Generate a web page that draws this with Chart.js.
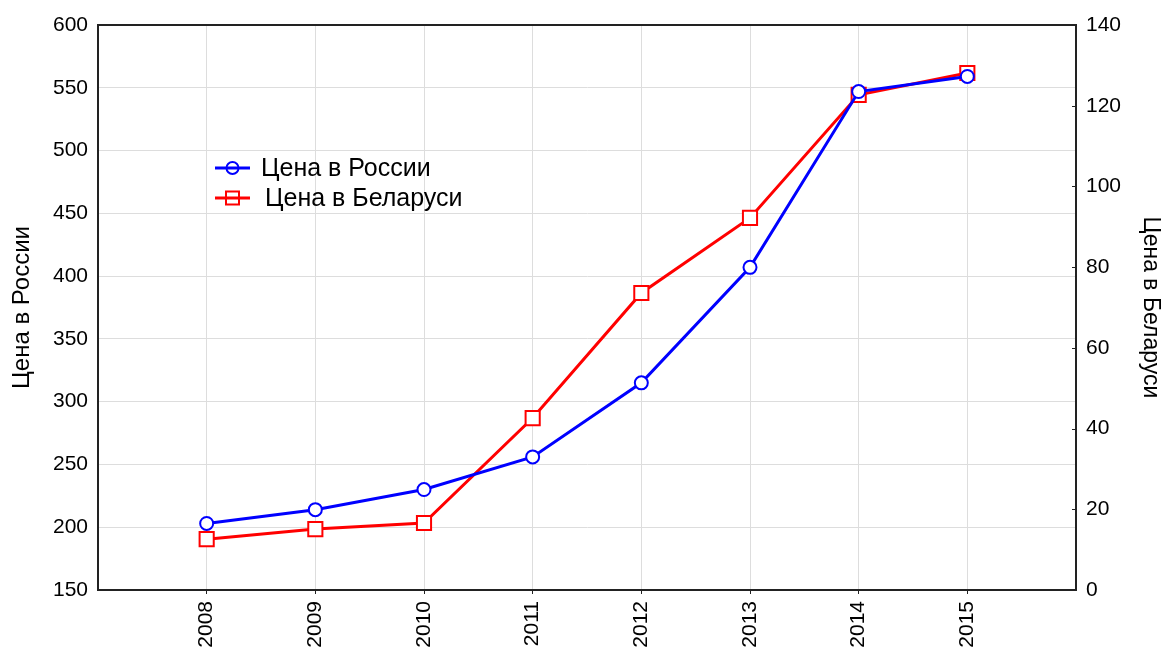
<!DOCTYPE html>
<html>
<head>
<meta charset="utf-8">
<script src="https://cdn.jsdelivr.net/npm/chart.js@4/dist/chart.umd.min.js"></script>
<style>
  html, body { margin: 0; padding: 0; background: #fff; }
  #wrap { width: 1164px; height: 651px; }
</style>
</head>
<body>
<div id="wrap"><canvas id="priceChart"></canvas></div>
<script>
// Chart data
const years = [2008, 2009, 2010, 2011, 2012, 2013, 2014, 2015];
const russiaPrice = [203, 214, 230, 256, 315, 407, 547, 559];
const belarusPrice = [12.6, 15.1, 16.6, 42.6, 73.6, 92.2, 122.7, 128.1];
const russiaLabel = 'Цена в России';
const belarusLabel = 'Цена в Беларуси';

const FONT = 'Liberation Sans, Arial, sans-serif';

// Frame, inner ticks of right axis, and the legend inside the plot
const framePlugin = {
    id: 'frame',
    afterDraw(chart) {
        const ctx = chart.ctx;
        const a = chart.chartArea;
        ctx.save();
        ctx.strokeStyle = '#222';
        ctx.lineWidth = 2;
        ctx.beginPath();
        ctx.moveTo(a.left - 1, a.top);
        ctx.lineTo(a.right + 1, a.top);
        ctx.stroke();

        // short inward ticks on the right axis
        const y1 = chart.scales.y1;
        ctx.lineWidth = 1;
        y1.ticks.forEach(t => {
            const py = Math.round(y1.getPixelForValue(t.value)) + 0.5;
            ctx.beginPath();
            ctx.moveTo(a.right - 4, py);
            ctx.lineTo(a.right, py);
            ctx.stroke();
        });

        // legend
        const items = chart.data.datasets;
        const lx = 215, ly = 168, rowH = 30;
        items.forEach((ds, i) => {
            const y = ly + i * rowH;
            ctx.strokeStyle = ds.borderColor;
            ctx.lineWidth = 3;
            ctx.beginPath();
            ctx.moveTo(lx, y);
            ctx.lineTo(lx + 35, y);
            ctx.stroke();
            ctx.lineWidth = 2;
            ctx.beginPath();
            if (ds.pointStyle === 'rect') {
                ctx.rect(lx + 17.5 - 6.5, y - 6.5, 13, 13);
            } else {
                ctx.arc(lx + 17.5, y, 6, 0, Math.PI * 2);
            }
            ctx.stroke();
            ctx.fillStyle = '#000';
            ctx.font = '25px ' + FONT;
            ctx.textBaseline = 'middle';
            ctx.textAlign = 'left';
            ctx.fillText(ds.label, lx + 46 + i * 4, y + 1);
        });
        ctx.restore();
    }
};

const ctx = document.getElementById('priceChart');

new Chart(ctx, {
    type: 'line',
    data: {
        datasets: [{
            label: russiaLabel,
            data: years.map((yr, i) => ({ x: yr, y: russiaPrice[i] })),
            yAxisID: 'y',
            borderColor: '#0000ff',
            backgroundColor: '#0000ff',
            pointBackgroundColor: '#ffffff',
            pointBorderColor: '#0000ff',
            pointStyle: 'circle',
            pointRadius: 6.5,
            pointBorderWidth: 2,
            borderWidth: 3,
            tension: 0
        }, {
            label: belarusLabel,
            data: years.map((yr, i) => ({ x: yr, y: belarusPrice[i] })),
            yAxisID: 'y1',
            borderColor: '#ff0000',
            backgroundColor: '#ff0000',
            pointBackgroundColor: '#ffffff',
            pointBorderColor: '#ff0000',
            pointStyle: 'rect',
            pointRadius: 10,
            pointBorderWidth: 2,
            borderWidth: 3,
            tension: 0
        }]
    },
    options: {
        responsive: true,
        maintainAspectRatio: false,
        animation: false,
        layout: { padding: { top: 25, left: 0, right: 0, bottom: 0 } },
        plugins: {
            legend: { display: false },
            tooltip: { enabled: false }
        },
        scales: {
            x: {
                type: 'linear',
                min: 2007,
                max: 2016,
                afterBuildTicks: axis => {
                    axis.ticks = years.map(v => ({ value: v }));
                },
                afterFit: axis => { axis.height = 61; },
                grid: {
                    color: '#dddddd',
                    lineWidth: 1,
                    tickColor: '#222',
                    tickLength: 4
                },
                border: { color: '#222', width: 2 },
                ticks: {
                    color: '#000',
                    font: { family: FONT, size: 21 },
                    maxRotation: 90,
                    minRotation: 90,
                    padding: 7,
                    callback: v => String(v)
                }
            },
            y: {
                position: 'left',
                min: 150,
                max: 600,
                afterFit: axis => { axis.width = 98; },
                grid: {
                    color: '#dddddd',
                    lineWidth: 1,
                    drawTicks: false
                },
                border: { color: '#222', width: 2 },
                ticks: {
                    stepSize: 50,
                    color: '#000',
                    padding: 10,
                    font: { family: FONT, size: 21 }
                },
                title: {
                    display: true,
                    text: russiaLabel,
                    color: '#000',
                    font: { family: FONT, size: 24 },
                    padding: { top: 8, bottom: 0 }
                }
            },
            y1: {
                position: 'right',
                min: 0,
                max: 140,
                afterFit: axis => { axis.width = 88; },
                grid: {
                    drawOnChartArea: false,
                    drawTicks: false
                },
                border: { color: '#222', width: 2 },
                ticks: {
                    stepSize: 20,
                    color: '#000',
                    padding: 10,
                    font: { family: FONT, size: 21 }
                },
                title: {
                    display: true,
                    text: belarusLabel,
                    color: '#000',
                    font: { family: FONT, size: 23 },
                    padding: { top: 0, bottom: 0 }
                }
            }
        }
    },
    plugins: [framePlugin]
});
</script>
</body>
</html>
